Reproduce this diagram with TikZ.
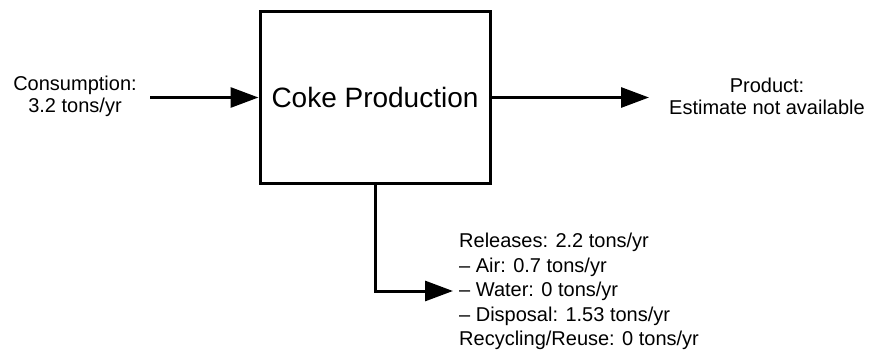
\documentclass[tikz,border=0pt]{standalone}
\usepackage{fontspec}
\setmainfont{Liberation Sans}
\usetikzlibrary{arrows.meta}
\begin{document}
\begin{tikzpicture}[x=1pt,y=-1pt,
  flow/.style={line width=3pt, -{Triangle[length=28pt,width=20pt]}},
  flowtext/.style={font=\fontsize{20}{22}\selectfont, inner sep=0pt, align=center},
  listtext/.style={font=\fontsize{20}{24.5}\selectfont, inner sep=0pt, align=left},
  process/.style={draw, line width=3pt, minimum width=230pt, minimum height=171pt,
    inner sep=0pt, font=\fontsize{28}{32}\selectfont}]
  \useasboundingbox (0,0) rectangle (870,350);

  % the process box
  \node[process] (box) at (375,97.5) {Coke Production};

  % inputs, outputs and their labels
  \node[flowtext] (cons) at (75,96.5) {Consumption:\\3.2 tons/yr};
  \node[flowtext] (prod) at (767,96.5) {Product:\\Estimate not available};
  \node[listtext, anchor=west] (rel) at (459,291.4)
    {Releases: 2.2 tons/yr\\– Air: 0.7 tons/yr\\– Water: 0 tons/yr\\– Disposal: 1.53 tons/yr\\Recycling/Reuse: 0 tons/yr};

  \coordinate (inTail) at (150,97.5);
  \coordinate (outTip) at (649,97.5);
  \coordinate (relTip) at (453,291);

  \draw[flow] (inTail) -- (box.west);
  \draw[flow] (box.east) -- (outTip);
  \draw[flow] (box.south) |- (relTip);
\end{tikzpicture}
\end{document}
